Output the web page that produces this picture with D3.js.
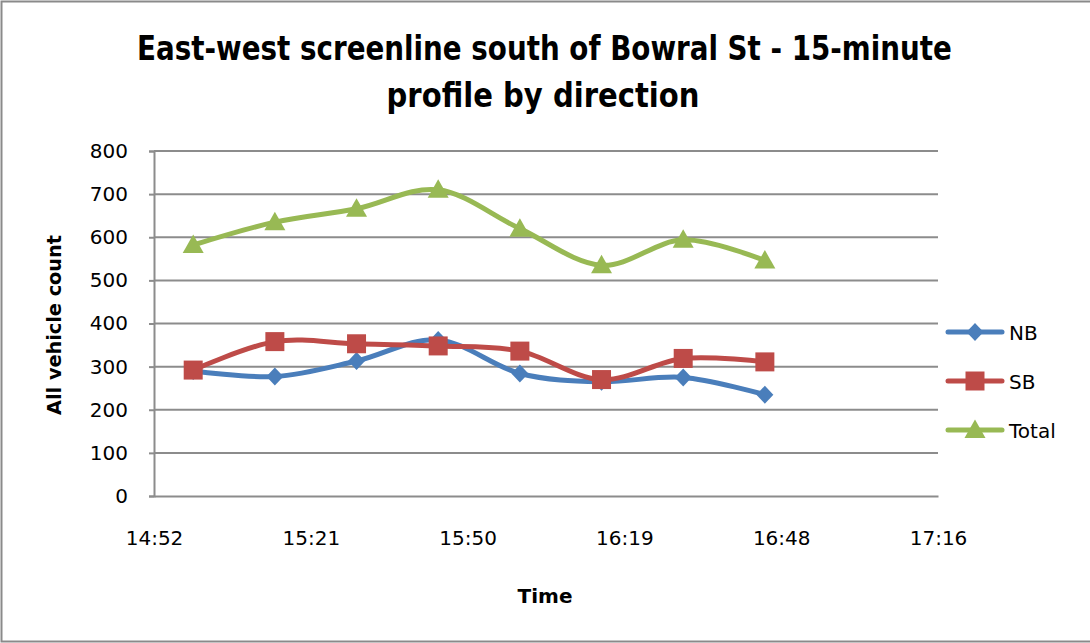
<!DOCTYPE html>
<html>
<head>
<meta charset="utf-8">
<script src="https://cdn.jsdelivr.net/npm/d3@7"></script>
<style>
  html, body { margin: 0; padding: 0; background: #fff; }
  svg { display: block; }
  text { font-family: "DejaVu Sans", "Open Sans", sans-serif; fill: #000; }
</style>
</head>
<body>
<svg id="chart" width="1090" height="643"></svg>
<script>
// ---- data ----
const times = ["15:00", "15:15", "15:30", "15:45", "16:00", "16:15", "16:30", "16:45"];
const nbValues = [290, 277, 313, 362, 284, 265, 275, 235];
const sbValues = [292, 358, 353, 348, 336, 270, 319, 311];
const totalValues = [582, 635, 666, 710, 620, 535, 594, 546];
const seriesNames = ["NB", "SB", "Total"];
const xTickLabels = ["14:52", "15:21", "15:50", "16:19", "16:48", "17:16"];
const yTicks = [0, 100, 200, 300, 400, 500, 600, 700, 800];
const titleLines = ["East-west screenline south of Bowral St - 15-minute", "profile by direction"];
const xAxisTitle = "Time";
const yAxisTitle = "All vehicle count";

// ---- helpers ----
const toMin = s => { const [h, m] = s.split(":").map(Number); return h * 60 + m; };
// Excel time-axis: 0.62 day to 0.72 day, major unit 0.02 day
const xMin = 0.62 * 1440, xMax = 0.72 * 1440;
const xTickVals = d3.range(0, 6).map(i => (0.62 + 0.02 * i) * 1440);

const svg = d3.select("#chart");
const plot = { left: 154, right: 938, top: 151, bottom: 496 };

// outer border
svg.append("rect").attr("x", 1.5).attr("y", 1.5).attr("width", 1100).attr("height", 640)
  .attr("fill", "#fff").attr("stroke", "#8a8a8a").attr("stroke-width", 2);

const x = d3.scaleLinear().domain([xMin, xMax]).range([plot.left, plot.right]);
const y = d3.scaleLinear().domain([0, 800]).range([plot.bottom, plot.top]);

// gridlines
svg.append("g").selectAll("line").data(yTicks.filter(d => d > 0)).join("line")
  .attr("x1", plot.left).attr("x2", plot.right)
  .attr("y1", d => y(d)).attr("y2", d => y(d))
  .attr("stroke", "#8c8c8c").attr("stroke-width", 2);

// y axis
const yAxis = d3.axisLeft(y).tickValues(yTicks).tickSize(5).tickPadding(21).tickFormat(d3.format("d"));
const gy = svg.append("g").attr("transform", `translate(${plot.left},0)`).call(yAxis);
gy.select(".domain").attr("stroke", "#8c8c8c").attr("stroke-width", 2);
gy.selectAll(".tick line").attr("stroke", "#8c8c8c").attr("stroke-width", 2);
gy.selectAll(".tick text").attr("font-size", 20).attr("fill", "#000")
  .attr("font-family", "DejaVu Sans");

// x axis
const xAxis = d3.axisBottom(x).tickValues(xTickVals).tickSize(0).tickPadding(35)
  .tickFormat((d, i) => xTickLabels[i]);
const gx = svg.append("g").attr("transform", `translate(0,${plot.bottom})`).call(xAxis);
gx.select(".domain").attr("stroke", "#8c8c8c").attr("stroke-width", 2);
gx.selectAll(".tick text").attr("font-size", 20).attr("fill", "#000")
  .attr("font-family", "DejaVu Sans");

// fitted text: scale horizontally (in its own frame) to a target length
function fittedText(cx, cy, rot, str, size, target) {
  const g = svg.append("g").attr("transform", `translate(${cx},${cy}) rotate(${rot})`);
  const t = g.append("text").attr("text-anchor", "middle")
    .attr("font-size", size).attr("font-weight", "bold").text(str);
  const w = t.node().getComputedTextLength();
  t.attr("transform", `scale(${target / w},1)`);
  return t;
}

fittedText(544.5, 60, 0, titleLines[0], 33, 815);
fittedText(543, 107, 0, titleLines[1], 33, 313);
svg.append("text").attr("x", 545).attr("y", 603).attr("text-anchor", "middle")
  .attr("font-size", 20).attr("font-weight", "bold").text(xAxisTitle);
fittedText(61, 325, -90, yAxisTitle, 20, 180);

// series
const series = [
  { name: seriesNames[0], values: nbValues, color: "#4A7EBB", marker: "diamond" },
  { name: seriesNames[1], values: sbValues, color: "#BE4B48", marker: "square" },
  { name: seriesNames[2], values: totalValues, color: "#98B954", marker: "triangle" }
];

const line = d3.line().curve(d3.curveCardinal.tension(0))
  .x(d => x(toMin(d.t))).y(d => y(d.v));

function markerPath(type) {
  if (type === "diamond") return "M0,-9L8.5,0L0,9L-8.5,0Z";
  if (type === "square") return "M-9.5,-9.5H9.5V9.5H-9.5Z";
  return "M0,-10.5L10.5,8H-10.5Z";
}

series.forEach(s => {
  const pts = times.map((t, i) => ({ t, v: s.values[i] }));
  svg.append("path").datum(pts).attr("d", line)
    .attr("fill", "none").attr("stroke", s.color).attr("stroke-width", 5)
    .attr("stroke-linejoin", "round").attr("stroke-linecap", "round");
  svg.append("g").selectAll("path").data(pts).join("path")
    .attr("transform", d => `translate(${x(toMin(d.t))},${y(d.v)})`)
    .attr("d", markerPath(s.marker)).attr("fill", s.color);
});

// legend
const legendY = [332, 381, 430];
series.forEach((s, i) => {
  const g = svg.append("g").attr("transform", `translate(0,${legendY[i]})`);
  g.append("line").attr("x1", 948).attr("x2", 1002).attr("y1", 0).attr("y2", 0)
    .attr("stroke", s.color).attr("stroke-width", 5).attr("stroke-linecap", "round");
  g.append("path").attr("transform", "translate(975,0)").attr("d", markerPath(s.marker)).attr("fill", s.color);
  g.append("text").attr("x", 1009).attr("y", 7.5).attr("font-size", 20).text(s.name);
});
</script>
</body>
</html>
